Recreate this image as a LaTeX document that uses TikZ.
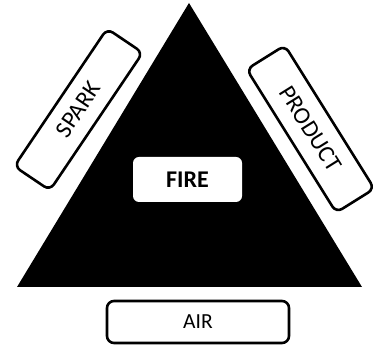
\documentclass[tikz,border=0pt]{standalone}
\usepackage{fontspec}
\setmainfont{Carlito}
\tikzset{
  lbl/.style={draw=black, fill=white, line width=2.6pt, rounded corners=7pt, inner sep=0pt, font=\fontsize{21.5}{24}\selectfont},
  tilted/.style={lbl, font=\fontsize{24}{26}\selectfont},
  firebox/.style={fill=white, rounded corners=6pt, inner sep=0pt, minimum width=109pt, minimum height=45pt, font=\bfseries\fontsize{24}{26}\selectfont}
}
\begin{document}
\begin{tikzpicture}[x=1pt,y=1pt]
\useasboundingbox (0,0) rectangle (377,345);
\coordinate (apex) at (189,342);
\coordinate (bl) at (17,58);
\coordinate (br) at (362,58);
\fill[black] (apex) -- (br) -- (bl) -- cycle;
\node[firebox] (fire) at (187.5,165.5) {FIRE};
\node[lbl, minimum width=182pt, minimum height=42pt] (air) at (198,23) {AIR};
\node[tilted, minimum width=166pt, minimum height=43pt, rotate=56] (spark) at (78.5,235.5) {SPARK};
\node[tilted, minimum width=169pt, minimum height=45pt, rotate=-58] (product) at (310.5,216) {PRODUCT};
\end{tikzpicture}
\end{document}
